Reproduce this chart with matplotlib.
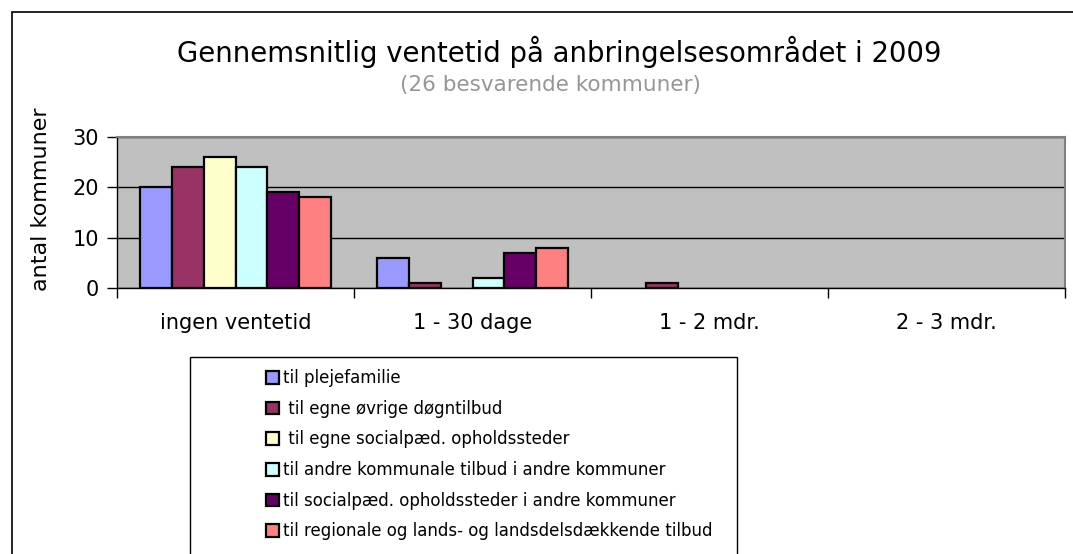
import matplotlib.pyplot as plt
from matplotlib.patches import Rectangle
import numpy as np

categories = ["ingen ventetid", "1 - 30 dage", "1 - 2 mdr.", "2 - 3 mdr."]
series_names = ["til plejefamilie",
                " til egne øvrige døgntilbud",
                " til egne socialpæd. opholdssteder",
                "til andre kommunale tilbud i andre kommuner",
                "til socialpæd. opholdssteder i andre kommuner",
                "til regionale og lands- og landsdelsdækkende tilbud"]
plejefamilie = [20, 6, 0, 0]
egne_doegn = [24, 1, 1, 0]
egne_socialpaed = [26, 0, 0, 0]
andre_kommunale = [24, 2, 0, 0]
socialpaed_andre = [19, 7, 0, 0]
regionale = [18, 8, 0, 0]
series = [plejefamilie, egne_doegn, egne_socialpaed, andre_kommunale, socialpaed_andre, regionale]
colors = ['#9999FF', '#993366', '#FFFFCC', '#CCFFFF', '#660066', '#FF8080']

W, H = 1073, 554
fig = plt.figure(figsize=(W / 100, H / 100), dpi=100)

# outer chart frame (runs off the right and bottom edges)
fig.patches.append(Rectangle((12 / W, -0.1), 1.2, 1 - 12 / H + 0.1, transform=fig.transFigure,
                             fill=False, edgecolor='black', linewidth=1.2))

ax = fig.add_axes([117 / W, 1 - 288 / H, (1065 - 117) / W, (288 - 137) / H])
ax.set_facecolor('#C0C0C0')

x = np.arange(len(categories))
bw = 0.134
for j, (vals, c) in enumerate(zip(series, colors)):
   # zero bars get no outline, like the original
   lw = [1.6 if v > 0 else 0 for v in vals]
   ax.bar(x + (j - 2.5) * bw, vals, bw, color=c, edgecolor='black', linewidth=lw,
          label=series_names[j], zorder=3)

ax.set_xlim(-0.5, len(categories) - 0.5)
ax.set_ylim(0, 30)
ax.set_yticks([0, 10, 20, 30])
ax.yaxis.grid(True, color='black', linewidth=1, zorder=1)
ax.set_axisbelow(True)
ax.set_xticks(np.arange(len(categories) + 1) - 0.5)
ax.set_xticklabels([])
ax.set_xticks(x, minor=True)
ax.set_xticklabels(categories, minor=True, fontsize=15)
ax.tick_params(axis='x', which='minor', length=0, pad=18)
ax.tick_params(axis='x', which='major', length=7, width=1, direction='out')
ax.tick_params(axis='y', length=7, width=1, direction='out', labelsize=15, pad=6)
for s in ['top', 'right']:
   ax.spines[s].set_color('#808080')
   ax.spines[s].set_linewidth(1.5)
for s in ['left', 'bottom']:
   ax.spines[s].set_color('black')
   ax.spines[s].set_linewidth(1)
ax.set_ylabel("antal kommuner", fontsize=16)
ax.yaxis.set_label_coords((41 - 117) / (1065 - 117), (288 - 199) / (288 - 137))
ax.yaxis.label.set_va('center')

fig.text(559 / W, 1 - 52 / H, "Gennemsnitlig ventetid på anbringelsesområdet i 2009",
         ha='center', va='center', fontsize=19.8)
fig.text(550 / W, 1 - 85 / H, "(26 besvarende kommuner)", ha='center', va='center',
         fontsize=15.5, color='#969696')

# legend box
fig.patches.append(Rectangle((190 / W, -0.1), (737 - 190) / W, 1 - 357 / H + 0.1,
                             transform=fig.transFigure, fill=False, edgecolor='black', linewidth=1))
handles, labels = ax.get_legend_handles_labels()
fig.legend(handles, labels, loc='upper left', bbox_to_anchor=(266 / W, 1 - 369 / H),
           frameon=False, fontsize=12, handlelength=0.8, handleheight=0.8,
           handletextpad=0.2, labelspacing=0.76, borderpad=0, borderaxespad=0)

fig.savefig('out.png', dpi=100)
